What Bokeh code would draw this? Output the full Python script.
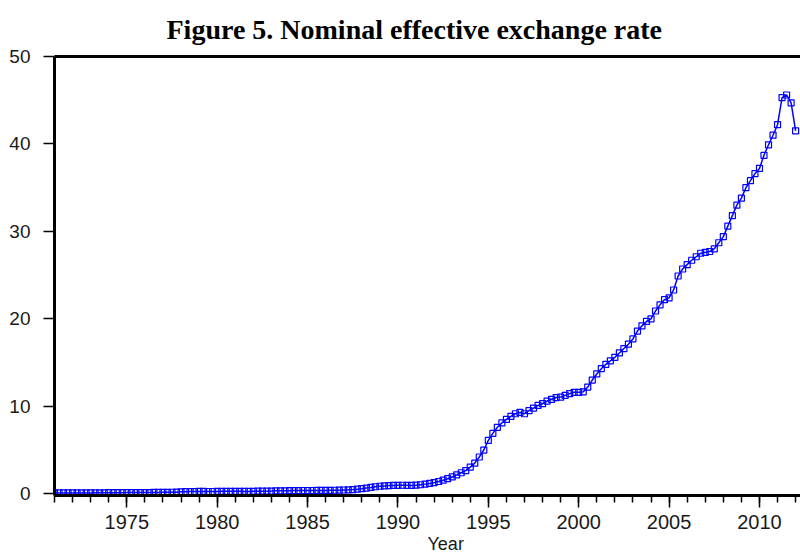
from bokeh.plotting import figure
from bokeh.models import Range1d, FixedTicker, LinearAxis, Title
from bokeh.embed import file_html
from bokeh.resources import INLINE

# ---- data (quarterly) ----
years = list(range(1971, 2013))
quarters = [0.0, 0.25, 0.5, 0.75]

neer_1971_1980 = [
    0.10, 0.10, 0.10, 0.10,   # 1971
    0.10, 0.10, 0.10, 0.10,   # 1972
    0.10, 0.11, 0.11, 0.11,   # 1973
    0.12, 0.12, 0.12, 0.12,   # 1974
    0.13, 0.13, 0.13, 0.13,   # 1975
    0.14, 0.14, 0.15, 0.15,   # 1976
    0.16, 0.16, 0.17, 0.18,   # 1977
    0.22, 0.24, 0.25, 0.25,   # 1978
    0.27, 0.27, 0.26, 0.26,   # 1979
    0.27, 0.28, 0.28, 0.28,   # 1980
]
neer_1981_1990 = [
    0.28, 0.28, 0.27, 0.27,   # 1981
    0.28, 0.29, 0.30, 0.30,   # 1982
    0.31, 0.33, 0.34, 0.34,   # 1983
    0.35, 0.36, 0.36, 0.37,   # 1984
    0.37, 0.37, 0.38, 0.38,   # 1985
    0.38, 0.39, 0.40, 0.41,   # 1986
    0.43, 0.45, 0.48, 0.52,   # 1987
    0.58, 0.65, 0.72, 0.80,   # 1988
    0.86, 0.90, 0.93, 0.95,   # 1989
    0.96, 0.97, 0.96, 0.95,   # 1990
]
neer_1991_2000 = [
    0.98, 1.03, 1.10, 1.18,   # 1991
    1.27, 1.40, 1.55, 1.72,   # 1992
    1.92, 2.15, 2.40, 2.65,   # 1993
    3.05, 3.50, 4.20, 5.00,   # 1994
    6.10, 6.90, 7.60, 8.10,   # 1995
    8.50, 8.85, 9.15, 9.30,   # 1996
    9.15, 9.50, 9.80, 10.10,  # 1997
    10.30, 10.60, 10.80, 11.00,  # 1998
    11.05, 11.25, 11.45, 11.60,  # 1999
    11.60, 11.65, 12.20, 13.00,  # 2000
]
neer_2001_2012 = [
    13.70, 14.30, 14.80, 15.20,  # 2001
    15.60, 16.10, 16.60, 17.10,  # 2002
    17.70, 18.60, 19.20, 19.70,  # 2003
    20.00, 20.90, 21.60, 22.20,  # 2004
    22.40, 23.30, 24.90, 25.70,  # 2005
    26.20, 26.70, 27.10, 27.50,  # 2006
    27.60, 27.70, 28.00, 28.70,  # 2007
    29.40, 30.60, 31.80, 33.00,  # 2008
    33.80, 35.00, 35.80, 36.60,  # 2009
    37.20, 38.70, 39.90, 41.00,  # 2010
    42.20, 45.30, 45.60, 44.70,  # 2011
    41.50,                       # 2012Q1
]
values = neer_1971_1980 + neer_1981_1990 + neer_1991_2000 + neer_2001_2012
dates = [y + q for y in years for q in quarters][:len(values)]

y_ticks = [0, 10, 20, 30, 40, 50]
x_ticks = [1975, 1980, 1985, 1990, 1995, 2000, 2005, 2010]
x_minor = list(range(1971, 2013))

title_text = "Figure 5. Nominal effective exchange rate"
x_label = "Year"

# ---- figure ----
p = figure(width=800, height=554, output_backend="svg", toolbar_location=None,
           x_range=Range1d(1971.0, 2012.27), y_range=Range1d(-0.2, 50),
           min_border_left=54, min_border_right=0, min_border_top=55,
           min_border_bottom=59)
p.background_fill_color = "white"
p.border_fill_color = "white"
p.outline_line_color = None
p.xgrid.grid_line_color = None
p.ygrid.grid_line_color = None

p.title.text = title_text
p.title.text_font = "Liberation Serif"
p.title.text_font_style = "bold"
p.title.text_font_size = "28px"
p.title.text_color = "black"
p.title.align = "left"
p.title.offset = 112
p.title.standoff = 23

tick_font = "Liberation Sans"

ya = p.yaxis[0]
ya.ticker = FixedTicker(ticks=y_ticks, minor_ticks=[])
ya.axis_line_width = 3
ya.axis_line_color = "black"
ya.major_tick_in = 0
ya.major_tick_out = 11
ya.major_tick_line_width = 1.5
ya.major_tick_line_color = "black"
ya.minor_tick_line_color = None
ya.major_label_text_font = tick_font
ya.major_label_text_font_size = "19px"
ya.major_label_text_color = "#1a1a1a"
ya.major_label_standoff = 13

xa = p.xaxis[0]
xa.ticker = FixedTicker(ticks=x_ticks, minor_ticks=x_minor)
xa.axis_line_width = 3
xa.axis_line_color = "black"
xa.major_tick_in = 0
xa.major_tick_out = 12
xa.minor_tick_in = 0
xa.minor_tick_out = 7
xa.major_tick_line_width = 1.5
xa.minor_tick_line_width = 1.5
xa.major_tick_line_color = "black"
xa.minor_tick_line_color = "black"
xa.major_label_text_font = tick_font
xa.major_label_text_font_size = "20px"
xa.major_label_text_color = "#1a1a1a"
xa.major_label_standoff = 7

top = LinearAxis(ticker=FixedTicker(ticks=[]), axis_line_width=3,
                 axis_line_color="black", major_label_text_font_size="0px",
                 major_tick_line_color=None, minor_tick_line_color=None)
p.add_layout(top, "above")

xlab = Title(text=x_label, align="left", offset=373, standoff=0,
             text_font=tick_font, text_font_style="normal",
             text_font_size="18px", text_color="#1a1a1a")
p.add_layout(xlab, "below")

p.line(dates, values, line_color="#0000FF", line_width=1.5)
p.scatter(dates, values, marker="square", size=6, fill_color=None,
          line_color="#0000FF", line_width=1.2)

open("out.html", "w").write(file_html(p, INLINE))
